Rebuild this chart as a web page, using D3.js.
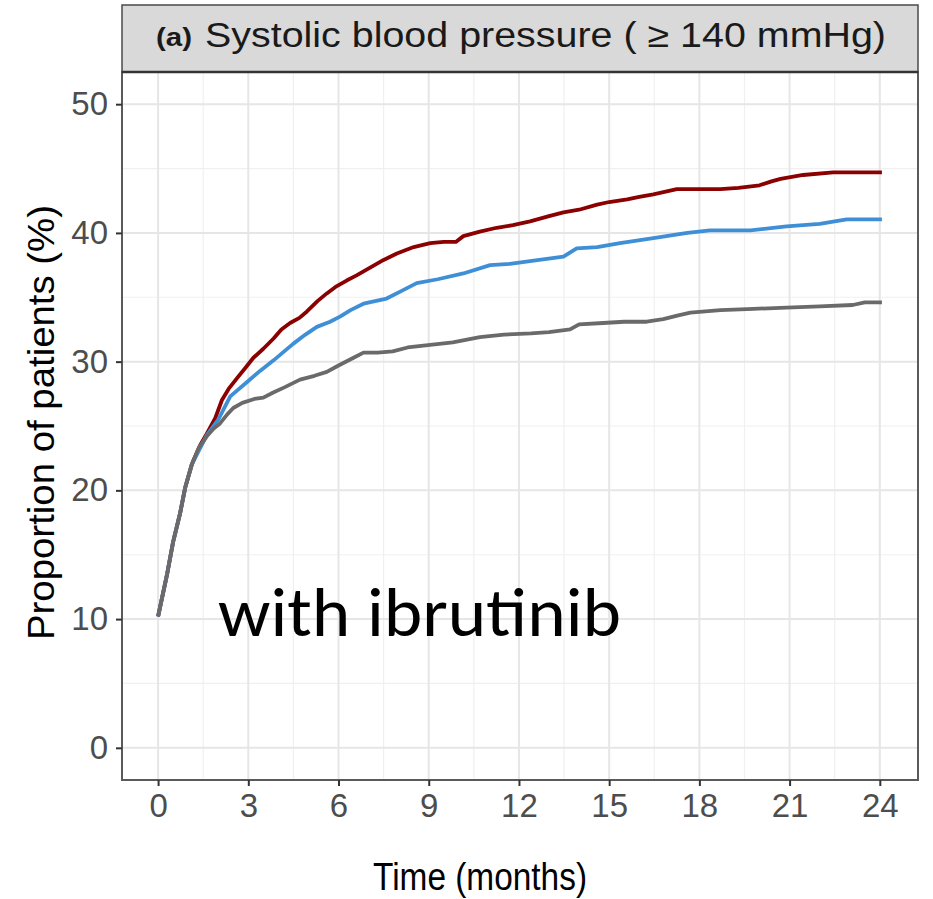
<!DOCTYPE html>
<html>
<head>
<meta charset="utf-8">
<script src="https://cdn.jsdelivr.net/npm/d3@7"></script>
<style>
  html, body { margin: 0; padding: 0; background: #fff; }
  svg { display: block; }
</style>
</head>
<body>
<svg id="chart" width="933" height="899"></svg>
<script>
// ---------- data ----------
const panelTitleTag = "(a)";
const panelTitle = "Systolic blood pressure ( \u2265 140 mmHg)";
const xTitle = "Time (months)";
const yTitle = "Proportion of patients (%)";
const annotation = "with ibrutinib";

const xTicks = [0, 3, 6, 9, 12, 15, 18, 21, 24];
const yTicks = [0, 10, 20, 30, 40, 50];
const xMinor = [1.5, 4.5, 7.5, 10.5, 13.5, 16.5, 19.5, 22.5];
const yMinor = [5, 15, 25, 35, 45];

const grayTime = [0, 0.3, 0.5, 0.73, 0.9, 1.12, 1.35, 1.62, 1.85, 2.06, 2.3, 2.5, 2.8, 3.2, 3.5, 3.83, 4.2, 4.72, 5.2, 5.61, 6.0, 6.5, 6.83, 7.3, 7.8, 8.3, 9.05, 9.8, 10.7, 11.5, 12.4, 13.0, 13.7, 14.0, 14.8, 15.5, 16.25, 16.8, 17.3, 17.7, 18.7, 19.8, 20.9, 22.0, 23.1, 23.5, 24.07];
const grayValue = [10.2, 13.5, 16.0, 18.2, 20.2, 22.0, 23.3, 24.2, 24.8, 25.2, 25.9, 26.4, 26.8, 27.1, 27.2, 27.6, 28.0, 28.6, 28.9, 29.2, 29.7, 30.3, 30.7, 30.7, 30.8, 31.1, 31.3, 31.5, 31.9, 32.1, 32.2, 32.3, 32.5, 32.9, 33.0, 33.1, 33.1, 33.3, 33.6, 33.8, 34.0, 34.1, 34.2, 34.3, 34.4, 34.6, 34.6];

const redTime = [0, 0.3, 0.5, 0.73, 0.9, 1.12, 1.17, 1.4, 1.62, 1.9, 2.12, 2.35, 2.62, 2.9, 3.17, 3.5, 3.84, 4.1, 4.39, 4.7, 4.95, 5.3, 5.61, 5.9, 6.27, 6.6, 7.05, 7.5, 7.94, 8.5, 9.05, 9.5, 9.9, 10.15, 10.7, 11.26, 11.8, 12.37, 13.0, 13.48, 14.0, 14.6, 15.0, 15.6, 16.0, 16.47, 17.25, 18.0, 18.7, 19.3, 20.0, 20.4, 20.7, 21.45, 22.45, 23.2, 24.07];
const redValue = [10.2, 13.5, 16.0, 18.2, 20.2, 22.0, 22.3, 23.5, 24.4, 25.6, 27.0, 27.9, 28.7, 29.5, 30.3, 31.0, 31.8, 32.5, 33.0, 33.4, 33.9, 34.7, 35.3, 35.8, 36.3, 36.7, 37.3, 37.9, 38.4, 38.9, 39.2, 39.3, 39.3, 39.75, 40.1, 40.4, 40.6, 40.9, 41.3, 41.6, 41.8, 42.2, 42.4, 42.6, 42.8, 43.0, 43.4, 43.4, 43.4, 43.5, 43.7, 44.0, 44.2, 44.5, 44.7, 44.7, 44.7];

const blueTime = [0, 0.3, 0.5, 0.73, 0.9, 1.12, 1.62, 2.0, 2.4, 2.95, 3.4, 3.84, 4.5, 4.9, 5.28, 5.72, 6.05, 6.4, 6.83, 7.6, 8.1, 8.6, 9.3, 10.15, 11.04, 11.7, 12.37, 13.48, 13.92, 14.6, 15.36, 16.47, 17.6, 18.35, 19.7, 20.9, 22.0, 22.9, 24.07];
const blueValue = [10.2, 13.5, 16.0, 18.2, 20.2, 22.0, 24.3, 25.5, 27.3, 28.4, 29.3, 30.1, 31.4, 32.1, 32.7, 33.1, 33.5, 34.0, 34.5, 34.9, 35.5, 36.1, 36.4, 36.85, 37.5, 37.6, 37.8, 38.15, 38.8, 38.9, 39.2, 39.6, 40.0, 40.2, 40.2, 40.5, 40.7, 41.05, 41.05];

const seriesNames = ["red", "blue", "gray"];
const seriesColors = ["#8b0000", "#3f8fd6", "#6a6a6a"];

// ---------- layout ----------
const svg = d3.select("#chart");
const P = { left: 122, right: 918, top: 72, bottom: 780 };
const stripTop = 5;

const x = d3.scaleLinear().domain([-1.2, 25.27]).range([P.left, P.right]);
const y = d3.scaleLinear().domain([-2.5, 52.5]).range([P.bottom, P.top]);

// panel background
svg.append("rect").attr("x", P.left).attr("y", P.top)
  .attr("width", P.right - P.left).attr("height", P.bottom - P.top)
  .attr("fill", "#fff");

const grid = svg.append("g");
// minor grid
grid.selectAll(".xmin").data(xMinor).join("line")
  .attr("x1", d => x(d)).attr("x2", d => x(d))
  .attr("y1", P.top).attr("y2", P.bottom)
  .attr("stroke", "#f0f0f0").attr("stroke-width", 1.2);
grid.selectAll(".ymin").data(yMinor).join("line")
  .attr("y1", d => y(d)).attr("y2", d => y(d))
  .attr("x1", P.left).attr("x2", P.right)
  .attr("stroke", "#f0f0f0").attr("stroke-width", 1.2);
// major grid
grid.selectAll(".xmaj").data(xTicks).join("line")
  .attr("x1", d => x(d)).attr("x2", d => x(d))
  .attr("y1", P.top).attr("y2", P.bottom)
  .attr("stroke", "#e6e6e6").attr("stroke-width", 2);
grid.selectAll(".ymaj").data(yTicks).join("line")
  .attr("y1", d => y(d)).attr("y2", d => y(d))
  .attr("x1", P.left).attr("x2", P.right)
  .attr("stroke", "#e6e6e6").attr("stroke-width", 2);

// annotation text
svg.append("text")
  .attr("x", 218).attr("y", 636)
  .attr("font-family", "Carlito, Calibri, Lato, 'Open Sans', sans-serif")
  .attr("font-size", 70)
  .attr("fill", "#000")
  .attr("textLength", 403).attr("lengthAdjust", "spacingAndGlyphs")
  .text(annotation);

// lines
const series = [
  { name: "red", t: redTime, v: redValue },
  { name: "blue", t: blueTime, v: blueValue },
  { name: "gray", t: grayTime, v: grayValue }
];
const line = d3.line().x(d => x(d[0])).y(d => y(d[1])).curve(d3.curveLinear);
series.forEach((s) => {
  const pts = s.t.map((t, j) => [t, s.v[j]]);
  svg.append("path").datum(pts)
    .attr("d", line)
    .attr("fill", "none")
    .attr("stroke", seriesColors[seriesNames.indexOf(s.name)])
    .attr("stroke-width", 3.8)
    .attr("stroke-linejoin", "round")
    .attr("stroke-linecap", "butt");
});

// panel border
svg.append("rect").attr("x", P.left).attr("y", P.top)
  .attr("width", P.right - P.left).attr("height", P.bottom - P.top)
  .attr("fill", "none").attr("stroke", "#5a5a5a").attr("stroke-width", 2);

// axes
const tickFont = "'Liberation Sans', Arial, Helvetica, sans-serif";
const xAxis = svg.append("g").attr("transform", `translate(0,${P.bottom})`)
  .call(d3.axisBottom(x).tickValues(xTicks).tickSize(6).tickPadding(8).tickFormat(d3.format("d")));
const yAxis = svg.append("g").attr("transform", `translate(${P.left},0)`)
  .call(d3.axisLeft(y).tickValues(yTicks).tickSize(6).tickPadding(8).tickFormat(d3.format("d")));
[xAxis, yAxis].forEach(a => {
  a.select(".domain").remove();
  a.selectAll(".tick line").attr("stroke", "#333").attr("stroke-width", 2);
  a.selectAll(".tick text").attr("font-family", tickFont).attr("font-size", 33).attr("fill", "#4d4d4d");
});

// strip
svg.append("rect").attr("x", P.left).attr("y", stripTop)
  .attr("width", P.right - P.left).attr("height", P.top - stripTop)
  .attr("fill", "#d9d9d9").attr("stroke", "#4a4a4a").attr("stroke-width", 1.5);
svg.append("line").attr("x1", P.left).attr("x2", P.right)
  .attr("y1", P.top).attr("y2", P.top)
  .attr("stroke", "#333").attr("stroke-width", 2.5);

svg.append("text")
  .attr("x", 156).attr("y", 46)
  .attr("font-family", tickFont).attr("font-weight", "bold")
  .attr("font-size", 25).attr("fill", "#1a1a1a")
  .attr("textLength", 36).attr("lengthAdjust", "spacingAndGlyphs")
  .text(panelTitleTag);
svg.append("text")
  .attr("x", 205).attr("y", 47)
  .attr("font-family", tickFont)
  .attr("font-size", 35).attr("fill", "#1a1a1a")
  .attr("textLength", 681).attr("lengthAdjust", "spacingAndGlyphs")
  .text(panelTitle);

// axis titles
svg.append("text")
  .attr("x", 373).attr("y", 890)
  .attr("font-family", tickFont)
  .attr("font-size", 38).attr("fill", "#000")
  .attr("textLength", 214).attr("lengthAdjust", "spacingAndGlyphs")
  .text(xTitle);

svg.append("text")
  .attr("transform", "translate(54,640) rotate(-90)")
  .attr("x", 0).attr("y", 0)
  .attr("font-family", tickFont)
  .attr("font-size", 36).attr("fill", "#000")
  .attr("textLength", 435).attr("lengthAdjust", "spacingAndGlyphs")
  .text(yTitle);
</script>
</body>
</html>
